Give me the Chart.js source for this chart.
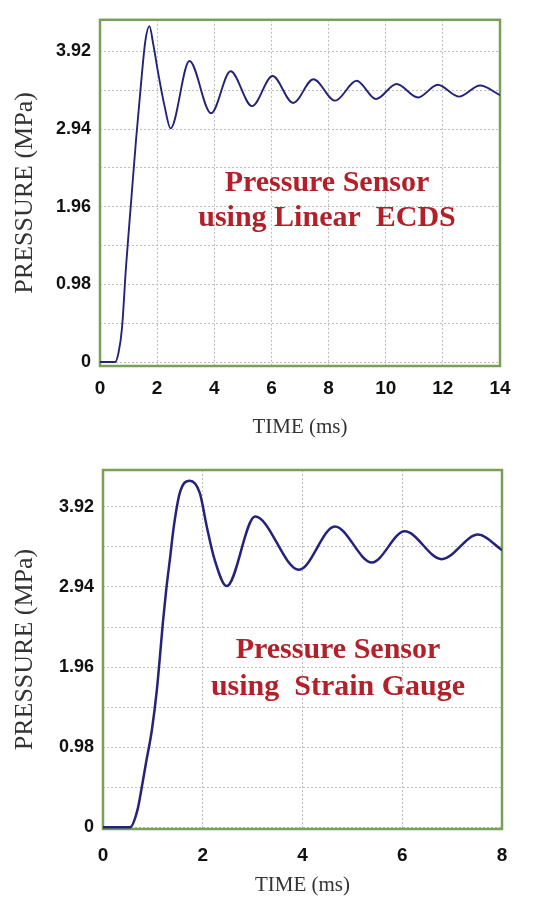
<!DOCTYPE html>
<html>
<head>
<meta charset="utf-8">
<script src="https://cdn.jsdelivr.net/npm/chart.js@4"></script>
<style>
  body { margin: 0; background: #fff; }
  .box { position: absolute; left: 0; width: 542px; }
  #box-top { top: 0; height: 450px; }
  #box-bottom { top: 450px; height: 448px; }
</style>
</head>
<body>
<div class="box" id="box-top"><canvas id="chart-top" width="542" height="450"></canvas></div>
<div class="box" id="box-bottom"><canvas id="chart-bottom" width="542" height="448"></canvas></div>
<script>
// pressure ticks (MPa): gridline every 0.49, label every 0.98
const yTicks = [0, 0.49, 0.98, 1.47, 1.96, 2.45, 2.94, 3.43, 3.92];

// Linear ECDS sensor, time in ms
const ecdsTime = [0, 0.53, 0.65, 0.77, 0.91, 1.09, 1.26, 1.42, 1.59, 1.73, 1.86, 2.04, 2.26,
  2.47, 3.13, 3.89, 4.57, 5.32, 6.04, 6.76, 7.47, 8.23, 8.98, 9.66, 10.38, 11.13, 11.82, 12.57, 13.30, 14.0];
const ecdsPressure = [0, 0, 0.12, 0.43, 1.20, 2.03, 2.80, 3.45, 4.06, 4.24, 4.02, 3.64, 3.23,
  2.95, 3.80, 3.14, 3.67, 3.23, 3.61, 3.27, 3.57, 3.30, 3.55, 3.32, 3.51, 3.34, 3.50, 3.35, 3.49, 3.37];

// strain gauge sensor
const gaugeTime = [0, 0.54, 0.69, 0.78, 0.86, 0.98, 1.08, 1.14, 1.20, 1.27, 1.34, 1.42, 1.54, 1.74, 1.94, 2.08, 2.24,
  2.48, 3.05, 3.93, 4.65, 5.39, 6.05, 6.79, 7.52, 8.0];
const gaugePressure = [0, 0, 0.21, 0.50, 0.78, 1.19, 1.68, 2.08, 2.50, 2.92, 3.27, 3.68, 4.09, 4.24, 4.09, 3.68, 3.27,
  2.95, 3.80, 3.15, 3.68, 3.24, 3.62, 3.28, 3.58, 3.39];

const frameGreen = '#78a058';
const lineBlue = '#23237a';
const noteRed = '#b3202a';

const framePlugin = {
  id: 'frame',
  beforeDatasetsDraw(chart) {
    const a = chart.chartArea;
    const c = chart.ctx;
    c.save();
    c.strokeStyle = frameGreen;
    c.lineWidth = 2.5;
    c.strokeRect(a.left, a.top, a.right - a.left, a.bottom - a.top);
    c.restore();
  }
};

const notesPlugin = {
  id: 'notes',
  afterDraw(chart, args, opts) {
    const c = chart.ctx;
    c.save();
    c.font = 'bold 30px "Liberation Serif", serif';
    c.fillStyle = noteRed;
    c.textAlign = 'center';
    c.textBaseline = 'middle';
    opts.lines.forEach((txt, i) => c.fillText(txt, opts.x, opts.y[i]));
    c.restore();
  }
};

function makeChart(id, times, pressures, cfg) {
  const points = times.map((t, i) => ({ x: t, y: pressures[i] }));
  return new Chart(document.getElementById(id), {
    type: 'line',
    data: {
      datasets: [{
        data: points,
        borderColor: lineBlue,
        borderWidth: cfg.lineWidth,
        pointRadius: 0,
        cubicInterpolationMode: 'monotone'
      }]
    },
    options: {
      responsive: false,
      animation: false,
      layout: { padding: cfg.padding },
      plugins: {
        legend: { display: false },
        tooltip: { enabled: false },
        notes: cfg.notes
      },
      scales: {
        x: {
          type: 'linear',
          min: 0,
          max: cfg.xMax,
          afterFit: s => { s.height = cfg.xHeight; },
          ticks: {
            stepSize: 2,
            padding: cfg.xTickPad,
            color: '#111',
            font: { family: '"Liberation Sans", Arial, sans-serif', size: 19, weight: 'bold' }
          },
          grid: { color: '#bdbdbd', drawTicks: false },
          border: { display: false, dash: [2, 2] },
          title: {
            display: true,
            text: 'TIME (ms)',
            color: '#333',
            padding: { top: 0, bottom: cfg.xTitlePad },
            font: { family: '"Liberation Serif", serif', size: 21, weight: 'normal' }
          }
        },
        y: {
          min: cfg.yMin,
          max: cfg.yMax,
          afterFit: s => { s.width = cfg.yWidth; },
          afterBuildTicks: s => { s.ticks = yTicks.map(v => ({ value: v })); },
          ticks: {
            padding: 9,
            color: '#111',
            font: { family: '"Liberation Sans", Arial, sans-serif', size: 18, weight: 'bold' },
            callback: (v, i) => (i % 2 === 0 ? (v === 0 ? '0' : v.toFixed(2)) : '')
          },
          grid: { color: '#bdbdbd', drawTicks: false },
          border: { display: false, dash: [2, 2] },
          title: {
            display: true,
            text: 'PRESSURE (MPa)',
            color: '#333',
            padding: { top: 10, bottom: 0 },
            font: { family: '"Liberation Serif", serif', size: 26, weight: 'normal' }
          }
        }
      }
    },
    plugins: [framePlugin, notesPlugin]
  });
}

makeChart('chart-top', ecdsTime, ecdsPressure, {
  xMax: 14, yMin: -0.05, yMax: 4.32,
  padding: { top: 11, right: 42, bottom: 0, left: 0 },
  yWidth: 100, xHeight: 84, xTickPad: 11, xTitlePad: 10, lineWidth: 1.9,
  notes: { lines: ['Pressure Sensor', 'using Linear  ECDS'], x: 327, y: [183, 218] }
});

makeChart('chart-bottom', gaugeTime, gaugePressure, {
  xMax: 8, yMin: -0.02, yMax: 4.37,
  padding: { top: 20, right: 40, bottom: 0, left: 0 },
  yWidth: 103, xHeight: 69, xTickPad: 15, xTitlePad: 0, lineWidth: 2.5,
  notes: { lines: ['Pressure Sensor', 'using  Strain Gauge'], x: 338, y: [200, 237] }
});
</script>
</body>
</html>
